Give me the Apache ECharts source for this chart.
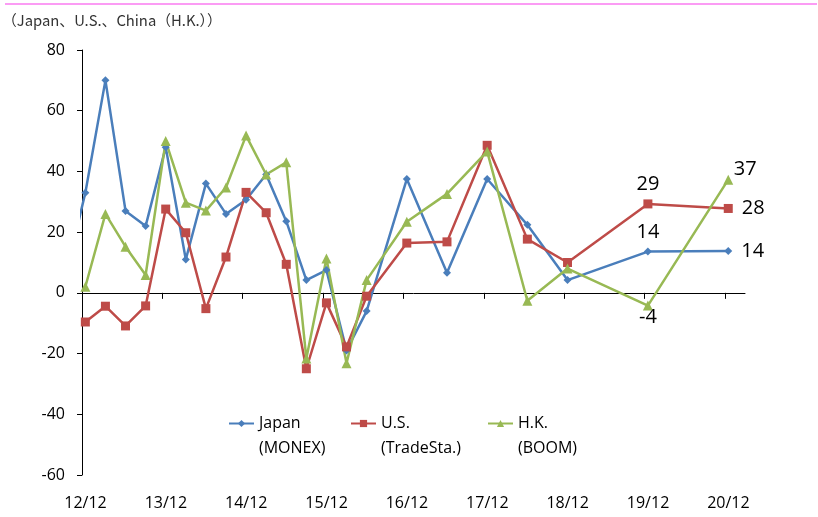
<!DOCTYPE html>
<html>
<head>
<meta charset="utf-8">
<script src="https://cdn.jsdelivr.net/npm/echarts@6/dist/echarts.min.js"></script>
<style>
  html, body { margin: 0; padding: 0; background: #fff; }
  #chart { width: 818px; height: 517px; }
</style>
</head>
<body>
<div id="chart"></div>
<script>
// yy/mm of each observation
const dates = ['12/09','12/12','13/03','13/06','13/09','13/12','14/03','14/06','14/09','14/12',
               '15/03','15/06','15/09','15/12','16/03','16/06','16/12','17/06','17/12','18/06',
               '18/12','19/12','20/12'];

const japan = [5, 33, 70, 27, 22, 48, 11, 36, 26, 30.7, 39, 23.6, 4.2, 7.5, -19, -6, 37.5, 6.6, 37.5, 22.4, 4.2, 13.6, 13.8];
const us    = [null, -9.6, -4.4, -10.9, -4.3, 27.6, 19.8, -5.2, 11.8, 33.1, 26.4, 9.4, -25, -3.3, -17.8, -1.1, 16.4, 16.8, 48.6, 17.7, 10, 29.3, 27.8];
const hk    = [null, 2, 26, 15.2, 5.9, 50, 29.7, 27.1, 34.7, 51.8, 39, 43, -21.6, 11.3, -23.2, 4.2, 23.4, 32.6, 46.6, -2.6, 8, -4.2, 37.3];

const tickLabels = ['12/12','13/12','14/12','15/12','16/12','17/12','18/12','19/12','20/12'];
const tickValues = tickLabels.map((_, i) => i * 12);

const seriesNames = ['Japan\n(MONEX)', 'U.S.\n(TradeSta.)', 'H.K.\n(BOOM)'];
const colors = ['#4a7ebb', '#be4b48', '#98b954'];

const FONT = "'Open Sans', 'Noto Sans', sans-serif";

// months since Dec 2012, centred in the month
function monthPos(d){
    const p = d.split('/');
    return (Number(p[0]) - 12) * 12 + (Number(p[1]) - 12) + 0.5;
}

const labelBase = { show: true, color: '#000', fontSize: 20, fontFamily: FONT };

// labels for the last two points of each series
const endLabels = [
    [{ position: 'top', distance: 5 }, { position: 'right', distance: 9 }],
    [{ position: 'top', distance: 5 }, { position: 'right', distance: 9 }],
    [{ position: 'bottom', distance: -3 }, { position: 'top', distance: -5, offset: [17, 0] }]
];

function buildData(values, s){
    const out = [];
    values.forEach((v, i) => {
        if (v === null) return;
        const item = { value: [monthPos(dates[i]), v] };
        const fromEnd = values.length - 1 - i;
        if (fromEnd <= 1) {
            item.label = Object.assign({}, labelBase, endLabels[s][1 - fromEnd], {
                formatter: p => String(Math.round(p.value[1]))
            });
        }
        out.push(item);
    });
    return out;
}

const chart = echarts.init(document.getElementById('chart'));

const legendLefts = [228, 350, 487];

const option = {
    animation: false,
    title: {
        text: '（Japan、U.S.、China（H.K.））',
        left: -3,
        top: 8,
        textStyle: { fontFamily: "'Noto Sans CJK JP', sans-serif", fontSize: 14.8, fontWeight: 'normal', color: '#333' }
    },
    graphic: [{
        type: 'line',
        shape: { x1: 5, y1: 4, x2: 817, y2: 4 },
        style: { stroke: '#fb9cf4', lineWidth: 2 }
    }],
    grid: { left: 82, right: 73, top: 50, bottom: 42 },
    legend: seriesNames.map((n, i) => ({
        data: [n],
        left: legendLefts[i],
        top: 386,
        padding: 0,
        itemWidth: 25,
        itemHeight: 9,
        // blank first line so the icon sits beside the first name line
        formatter: name => ' \n' + name,
        textStyle: { fontFamily: FONT, fontSize: 16, color: '#000', lineHeight: 25 }
    })),
    xAxis: [{
        type: 'value',
        position: 'top',
        min: 0,
        max: 99,
        interval: 12,
        axisLine: { onZero: true, lineStyle: { color: '#000', width: 1 } },
        axisTick: { show: true, inside: true, length: 6, customValues: tickValues, lineStyle: { color: '#000' } },
        axisLabel: { show: false },
        splitLine: { show: false }
    }, {
        type: 'value',
        position: 'bottom',
        min: 0,
        max: 99,
        interval: 12,
        axisLine: { show: false, onZero: false },
        axisTick: { show: false },
        axisLabel: {
            customValues: tickValues,
            formatter: v => tickLabels[Math.round(v / 12)] || '',
            margin: 20,
            padding: [0, 0, 0, 7],
            fontFamily: FONT,
            fontSize: 16,
            color: '#000'
        },
        splitLine: { show: false }
    }],
    yAxis: {
        type: 'value',
        min: -60,
        max: 80,
        interval: 20,
        axisLine: { show: true, lineStyle: { color: '#000', width: 1 } },
        axisTick: { show: true, length: 5, lineStyle: { color: '#000' } },
        axisLabel: { margin: 17, fontFamily: FONT, fontSize: 16, color: '#000' },
        splitLine: { show: false }
    },
    series: [
        { values: japan, symbol: 'diamond', size: 8 },
        { values: us, symbol: 'rect', size: 9 },
        { values: hk, symbol: 'triangle', size: 10 }
    ].map((s, i) => ({
        name: seriesNames[i],
        type: 'line',
        xAxisIndex: 0,
        data: buildData(s.values, i),
        symbol: s.symbol,
        symbolSize: s.size,
        clip: true,
        itemStyle: { color: colors[i] },
        lineStyle: { color: colors[i], width: 2.5 }
    }))
};

chart.setOption(option);
</script>
</body>
</html>
